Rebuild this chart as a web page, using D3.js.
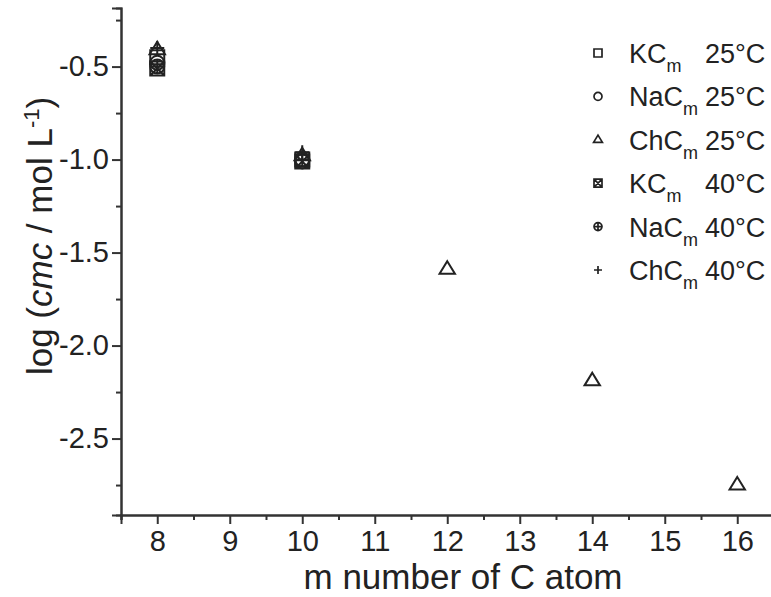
<!DOCTYPE html>
<html>
<head>
<meta charset="utf-8">
<script src="https://cdn.jsdelivr.net/npm/d3@7"></script>
<style>
  body { margin: 0; background: #fff; }
  svg { display: block; font-family: "Liberation Sans", Arial, sans-serif; }
</style>
</head>
<body>
<div id="graph"></div>
<script>
// carbon numbers
const mValues = [8, 10, 12, 14, 16];

// log(cmc) per series
const kc25 = [-0.45, -1.00];
const nac25 = [-0.48, -1.01];
const chc25 = [-0.41, -0.98, -1.59, -2.19, -2.75];
const kc40 = [-0.51, -1.01];
const nac40 = [-0.50, -1.00];
const chc40 = [-0.40, -0.96];

const seriesCations = ["K", "Na", "Ch", "K", "Na", "Ch"];
const seriesTemps = ["25°C", "25°C", "25°C", "40°C", "40°C", "40°C"];
const seriesShapes = ["square", "circle", "triangle", "xsquare", "pcircle", "plus"];
const seriesValues = [kc25, nac25, chc25, kc40, nac40, chc40];

const xTicks = [8, 9, 10, 11, 12, 13, 14, 15, 16];
const yTicks = [-2.5, -2.0, -1.5, -1.0, -0.5];
const yTickLabels = ["-2.5", "-2.0", "-1.5", "-1.0", "-0.5"];

const width = 771, height = 597;
const ink = "#222";

const svg = d3.select("#graph").append("svg")
    .attr("width", width)
    .attr("height", height);

const x = d3.scaleLinear().domain([7.5, 16.5]).range([121, 773.5]);
const y = d3.scaleLinear().domain([-2.911, -0.185]).range([515, 8]);

// marker path drawn around 0,0
function marker(shape, s) {
    const h = s / 2;
    const p = d3.path();
    if (shape === "square" || shape === "xsquare") {
        p.rect(-h, -h, s, s);
        if (shape === "xsquare") {
            p.moveTo(-h, -h); p.lineTo(h, h);
            p.moveTo(h, -h); p.lineTo(-h, h);
        }
    } else if (shape === "circle" || shape === "pcircle") {
        p.moveTo(h, 0); p.arc(0, 0, h, 0, 2 * Math.PI);
        if (shape === "pcircle") {
            p.moveTo(-h, 0); p.lineTo(h, 0);
            p.moveTo(0, -h); p.lineTo(0, h);
        }
    } else if (shape === "triangle") {
        const t = s * 0.58;
        p.moveTo(0, -t); p.lineTo(h * 1.1, t * 0.55); p.lineTo(-h * 1.1, t * 0.55); p.closePath();
    } else if (shape === "plus") {
        p.moveTo(-h, 0); p.lineTo(h, 0);
        p.moveTo(0, -h); p.lineTo(0, h);
    }
    return p.toString();
}

// axes
const yAxis = svg.append("g")
    .attr("transform", `translate(${x.range()[0]},0)`)
    .call(d3.axisLeft(y).tickValues(yTicks).tickSize(9).tickPadding(3)
        .tickFormat((d, i) => yTickLabels[i]));
const yMinor = svg.append("g")
    .attr("transform", `translate(${x.range()[0]},0)`)
    .call(d3.axisLeft(y).tickValues([-2.75, -2.25, -1.75, -1.25, -0.75, -0.25]).tickSize(5).tickFormat(""));

const xAxis = svg.append("g")
    .attr("transform", `translate(0,${y.range()[0]})`)
    .call(d3.axisBottom(x).tickValues(xTicks).tickSize(9).tickPadding(6));
const xMinor = svg.append("g")
    .attr("transform", `translate(0,${y.range()[0]})`)
    .call(d3.axisBottom(x).tickValues([7.5, 8.5, 9.5, 10.5, 11.5, 12.5, 13.5, 14.5, 15.5]).tickSize(5).tickFormat(""));

[yAxis, yMinor, xAxis, xMinor].forEach(g => {
    g.select(".domain").attr("stroke", "#333").attr("stroke-width", 2);
    g.selectAll(".tick line").attr("stroke", "#333").attr("stroke-width", 2);
    g.selectAll(".tick text").attr("fill", ink).attr("font-size", 29)
        .attr("font-family", "Liberation Sans, Arial, sans-serif");
});

// axis titles
svg.append("text")
    .attr("x", 463).attr("y", 589)
    .attr("text-anchor", "middle")
    .attr("font-size", 35).attr("fill", ink)
    .text("m number of C atom");

const yTitle = svg.append("text")
    .attr("transform", "translate(52,236) rotate(-90)")
    .attr("text-anchor", "middle")
    .attr("font-size", 35).attr("fill", ink);
yTitle.append("tspan").text("log (");
yTitle.append("tspan").attr("font-style", "italic").text("cmc");
yTitle.append("tspan").text(" / mol L");
yTitle.append("tspan").attr("font-size", 22).attr("dy", -13).text("-1");
yTitle.append("tspan").attr("dy", 13).text(")");

// data points
seriesValues.forEach((vals, i) => {
    svg.append("g").selectAll("path")
        .data(vals)
        .join("path")
        .attr("transform", (d, j) => `translate(${x(mValues[j])},${y(d)})`)
        .attr("d", marker(seriesShapes[i], 14))
        .attr("fill", "none")
        .attr("stroke", ink)
        .attr("stroke-width", 2);
});

// legend
const legend = svg.append("g");
const rowY = d3.scaleLinear().domain([0, 5]).range([53, 270]);
seriesCations.forEach((name, i) => {
    const row = legend.append("g").attr("transform", `translate(0,${rowY(i)})`);
    row.append("path")
        .attr("transform", "translate(598,0)")
        .attr("d", marker(seriesShapes[i], 8))
        .attr("fill", "none").attr("stroke", ink).attr("stroke-width", 1.7);
    const t = row.append("text").attr("x", 629).attr("y", 10)
        .attr("font-size", 27).attr("fill", ink);
    t.append("tspan").text(name + "C");
    t.append("tspan").attr("font-size", 18).attr("dy", 9).text("m");
    row.append("text").attr("x", 705).attr("y", 10)
        .attr("font-size", 27).attr("fill", ink).text(seriesTemps[i]);
});
</script>
</body>
</html>
